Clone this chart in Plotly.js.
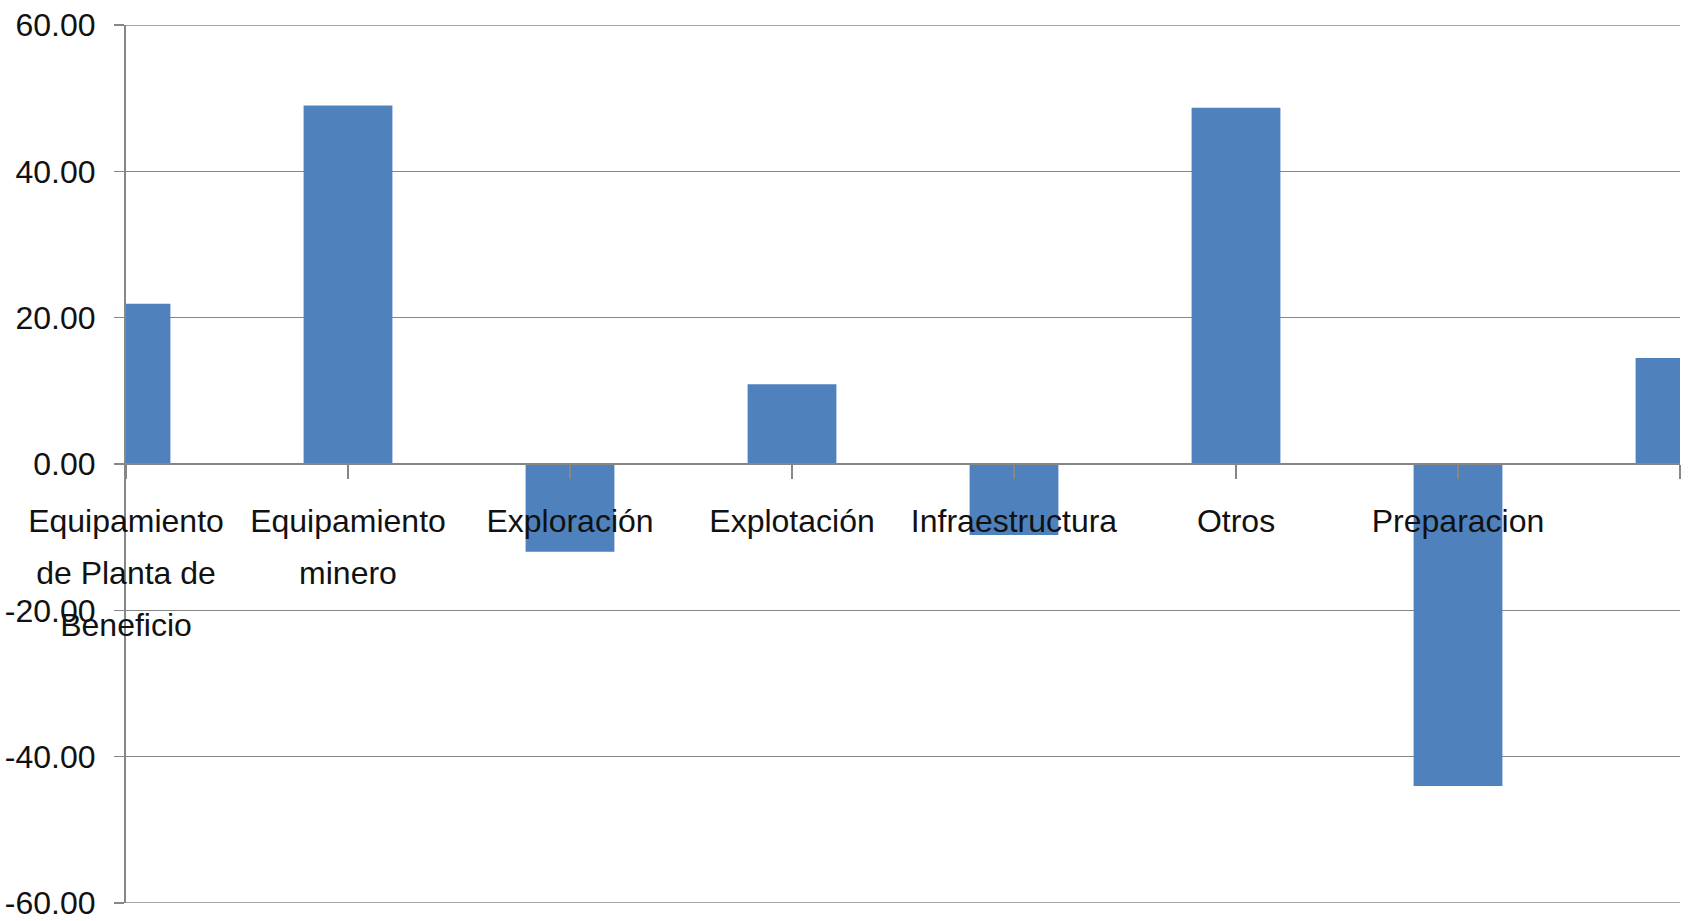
<!DOCTYPE html>
<html>
<head>
<meta charset="utf-8">
<script src="https://cdn.plot.ly/plotly-3.0.1.min.js"></script>
<style>html,body{margin:0;padding:0;background:#fff;}#chart{width:1688px;height:921px;}</style>
</head>
<body>
<div id="chart"></div>
<script>
const categories = ["Equipamiento<br>de Planta de<br>Beneficio", "Equipamiento<br>minero", "Exploración", "Explotación", "Infraestructura", "Otros", "Preparacion", ""];
const values = [21.9, 49.0, -12.0, 10.9, -9.7, 48.7, -44.0, 14.5];
const yTicks = [-60, -40, -20, 0, 20, 40, 60];
const yTickLabels = ["-60.00", "-40.00", "-20.00", "0.00", "20.00", "40.00", "60.00"];

const idx = categories.map((c, i) => i);
const FONT = '"Liberation Sans", Arial, sans-serif';
const GRID = '#868686';

// wrap each line in a smaller span so that line spacing (from the outer font size) is wider
const xLabels = categories.map(c => c === '' ? '' :
  c.split('<br>').map(l => '<span style="font-size:32px">' + l + '</span>').join('<br>'));

const data = [{
  type: 'bar',
  x: idx,
  y: values,
  width: 0.4,
  marker: {color: '#4F81BD', line: {width: 0}},
  hoverinfo: 'skip'
}];

const edgeLines = [yTicks[0], yTicks[yTicks.length - 1]].map(v => ({
  type: 'line', xref: 'paper', yref: 'y', x0: 0, x1: 1, y0: v, y1: v,
  line: {color: GRID, width: 1.5}, layer: 'below'
}));

const layout = {
  width: 1688, height: 921,
  margin: {l: 126, r: 8, t: 25, b: 18, pad: 0},
  paper_bgcolor: '#ffffff', plot_bgcolor: '#ffffff',
  showlegend: false,
  font: {family: FONT, size: 32, color: '#111111'},
  shapes: edgeLines,
  xaxis: {
    type: 'linear',
    range: [0, 7],
    tickmode: 'array',
    tickvals: idx,
    ticktext: xLabels,
    anchor: 'free',
    position: 0.5,
    showline: true, linecolor: GRID, linewidth: 2,
    ticks: 'outside', ticklen: 14, tickwidth: 1.5, tickcolor: GRID,
    ticklabelstandoff: 5,
    ticklabeloverflow: 'allow',
    showgrid: false, zeroline: false,
    tickfont: {family: FONT, size: 40, color: '#111111'},
    fixedrange: true
  },
  yaxis: {
    range: [-60, 60],
    tickmode: 'array',
    tickvals: yTicks,
    ticktext: yTickLabels,
    showline: true, linecolor: GRID, linewidth: 2,
    ticks: 'outside', ticklen: 10, tickwidth: 1.5, tickcolor: GRID,
    ticklabelstandoff: 12,
    ticklabeloverflow: 'allow',
    showgrid: true, gridcolor: GRID, gridwidth: 1.5,
    zeroline: false,
    tickfont: {family: FONT, size: 32, color: '#111111'},
    fixedrange: true
  }
};

Plotly.newPlot('chart', data, layout, {displayModeBar: false, staticPlot: true});
</script>
</body>
</html>
